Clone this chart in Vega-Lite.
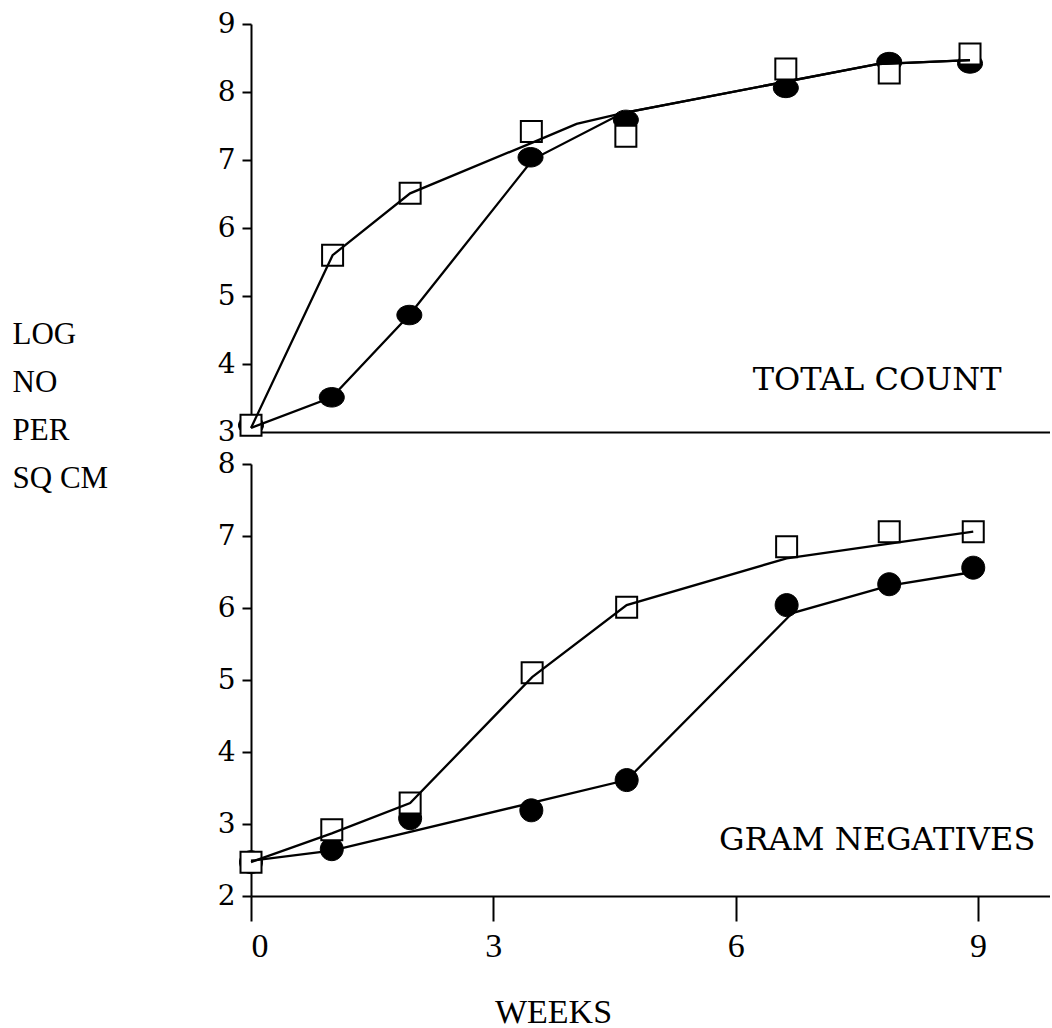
{
  "$schema": "https://vega.github.io/schema/vega-lite/v6.json",
  "background": "white",
  "padding": {"left": 12, "top": 10, "right": 0, "bottom": 0},
  "spacing": 32,
  "bounds": "flush",
  "config": {
    "view": {"stroke": null},
    "axis": {
      "grid": false,
      "domainColor": "black",
      "domainWidth": 2,
      "tickColor": "black",
      "tickWidth": 2,
      "labelColor": "black",
      "titleColor": "black"
    }
  },
  "datasets": {
    "points": [
      {"panel": "total", "series": "square", "week": 0, "logn": 3.1},
      {"panel": "total", "series": "square", "week": 1.01, "logn": 5.6},
      {"panel": "total", "series": "square", "week": 1.97, "logn": 6.51},
      {"panel": "total", "series": "square", "week": 3.47, "logn": 7.42},
      {"panel": "total", "series": "square", "week": 4.64, "logn": 7.35},
      {"panel": "total", "series": "square", "week": 6.62, "logn": 8.34},
      {"panel": "total", "series": "square", "week": 7.9, "logn": 8.28},
      {"panel": "total", "series": "square", "week": 8.9, "logn": 8.56},
      {"panel": "total", "series": "circle", "week": 0, "logn": 3.1},
      {"panel": "total", "series": "circle", "week": 1.0, "logn": 3.51},
      {"panel": "total", "series": "circle", "week": 1.96, "logn": 4.72},
      {"panel": "total", "series": "circle", "week": 3.46, "logn": 7.04},
      {"panel": "total", "series": "circle", "week": 4.64, "logn": 7.59},
      {"panel": "total", "series": "circle", "week": 6.62, "logn": 8.06},
      {"panel": "total", "series": "circle", "week": 7.9, "logn": 8.44},
      {"panel": "total", "series": "circle", "week": 8.9, "logn": 8.42},
      {"panel": "gram", "series": "square", "week": 0, "logn": 2.47},
      {"panel": "gram", "series": "square", "week": 1.0, "logn": 2.92},
      {"panel": "gram", "series": "square", "week": 1.97, "logn": 3.29},
      {"panel": "gram", "series": "square", "week": 3.48, "logn": 5.1},
      {"panel": "gram", "series": "square", "week": 4.65, "logn": 6.01},
      {"panel": "gram", "series": "square", "week": 6.63, "logn": 6.85},
      {"panel": "gram", "series": "square", "week": 7.9, "logn": 7.06},
      {"panel": "gram", "series": "square", "week": 8.94, "logn": 7.06},
      {"panel": "gram", "series": "circle", "week": 0, "logn": 2.47},
      {"panel": "gram", "series": "circle", "week": 1.0, "logn": 2.65},
      {"panel": "gram", "series": "circle", "week": 1.97, "logn": 3.08},
      {"panel": "gram", "series": "circle", "week": 3.47, "logn": 3.19},
      {"panel": "gram", "series": "circle", "week": 4.65, "logn": 3.61},
      {"panel": "gram", "series": "circle", "week": 6.63, "logn": 6.04},
      {"panel": "gram", "series": "circle", "week": 7.9, "logn": 6.33},
      {"panel": "gram", "series": "circle", "week": 8.94, "logn": 6.56}
    ],
    "fits": [
      {"panel": "total", "series": "square", "week": 0, "logn": 3.06},
      {"panel": "total", "series": "square", "week": 1.01, "logn": 5.6},
      {"panel": "total", "series": "square", "week": 1.97, "logn": 6.51},
      {"panel": "total", "series": "square", "week": 3.49, "logn": 7.26},
      {"panel": "total", "series": "square", "week": 4.03, "logn": 7.53},
      {"panel": "total", "series": "square", "week": 4.6, "logn": 7.69},
      {"panel": "total", "series": "square", "week": 7.75, "logn": 8.41},
      {"panel": "total", "series": "square", "week": 8.9, "logn": 8.47},
      {"panel": "total", "series": "circle", "week": 0, "logn": 3.06},
      {"panel": "total", "series": "circle", "week": 1.0, "logn": 3.51},
      {"panel": "total", "series": "circle", "week": 1.96, "logn": 4.72},
      {"panel": "total", "series": "circle", "week": 3.49, "logn": 7.01},
      {"panel": "total", "series": "circle", "week": 4.6, "logn": 7.69},
      {"panel": "total", "series": "circle", "week": 7.75, "logn": 8.41},
      {"panel": "total", "series": "circle", "week": 8.9, "logn": 8.47},
      {"panel": "gram", "series": "square", "week": 0, "logn": 2.47},
      {"panel": "gram", "series": "square", "week": 1.0, "logn": 2.87},
      {"panel": "gram", "series": "square", "week": 1.97, "logn": 3.29},
      {"panel": "gram", "series": "square", "week": 3.48, "logn": 5.04},
      {"panel": "gram", "series": "square", "week": 4.65, "logn": 6.04},
      {"panel": "gram", "series": "square", "week": 6.63, "logn": 6.69},
      {"panel": "gram", "series": "square", "week": 8.94, "logn": 7.06},
      {"panel": "gram", "series": "circle", "week": 0, "logn": 2.49},
      {"panel": "gram", "series": "circle", "week": 1.0, "logn": 2.63},
      {"panel": "gram", "series": "circle", "week": 4.65, "logn": 3.61},
      {"panel": "gram", "series": "circle", "week": 6.7, "logn": 5.93},
      {"panel": "gram", "series": "circle", "week": 7.9, "logn": 6.31},
      {"panel": "gram", "series": "circle", "week": 8.94, "logn": 6.5}
    ],
    "labels": [
      {"panel": "total", "week": 7.75, "logn": 3.62, "label": "TOTAL COUNT"},
      {"panel": "gram", "week": 7.75, "logn": 2.64, "label": "GRAM NEGATIVES"}
    ]
  },
  "vconcat": [
    {
      "width": 799,
      "height": 408,
      "encoding": {
        "x": {"field": "week", "type": "quantitative",
          "scale": {"domain": [0, 9.89], "nice": false, "zero": false},
          "axis": {"labels": false, "ticks": false, "title": null}},
        "y": {"field": "logn", "type": "quantitative",
          "scale": {"domain": [3, 9], "nice": false, "zero": false},
          "axis": {"values": [3, 4, 5, 6, 7, 8, 9], "tickSize": 9, "labelPadding": 7,
            "labelFont": "DejaVu Serif", "labelFontSize": 28,
            "title": ["LOG", "NO", "PER", "SQ CM"], "titleAngle": 0, "titleAlign": "left",
            "titleBaseline": "alphabetic", "titleX": -239, "titleY": 319,
            "titleFont": "Liberation Serif", "titleFontSize": 31, "titleFontWeight": "normal",
            "titleLineHeight": 48}}
      },
      "layer": [
        {"data": {"name": "points"},
         "transform": [{"filter": "datum.panel === 'total' && datum.series === 'circle'"}],
         "mark": {"type": "point", "shape": "M-1,0A1,0.78,0,1,1,1,0A1,0.78,0,1,1,-1,0Z", "filled": true, "fill": "black", "stroke": "black", "strokeWidth": 1, "opacity": 1, "size": 625}},
        {"data": {"name": "points"},
         "transform": [{"filter": "datum.panel === 'total' && datum.series === 'square'"}],
         "mark": {"type": "point", "shape": "square", "filled": true, "fill": "white", "stroke": "black", "strokeWidth": 2, "opacity": 1, "size": 441}},
        {"data": {"name": "fits"},
         "transform": [{"filter": "datum.panel === 'total'"}],
         "mark": {"type": "line", "color": "black", "strokeWidth": 2.3},
         "encoding": {"detail": {"field": "series"}}},
        {"data": {"name": "labels"},
         "transform": [{"filter": "datum.panel === 'total'"}],
         "mark": {"type": "text", "font": "DejaVu Serif", "fontSize": 32, "align": "center", "baseline": "alphabetic", "fill": "black"},
         "encoding": {"text": {"field": "label"}}}
      ]
    },
    {
      "width": 799,
      "height": 432,
      "encoding": {
        "x": {"field": "week", "type": "quantitative",
          "scale": {"domain": [0, 9.89], "nice": false, "zero": false},
          "axis": {"values": [0, 3, 6, 9], "tickSize": 25, "labelPadding": 8,
            "labelFont": "Liberation Serif", "labelFontSize": 34,
            "title": "WEEKS", "titleFont": "Liberation Serif", "titleFontSize": 34, "titleFontWeight": "normal",
            "titleX": 302, "titleY": 126, "titleAlign": "center", "titleBaseline": "alphabetic"}},
        "y": {"field": "logn", "type": "quantitative",
          "scale": {"domain": [2, 8], "nice": false, "zero": false},
          "axis": {"values": [2, 3, 4, 5, 6, 7, 8], "tickSize": 9, "labelPadding": 7,
            "labelFont": "DejaVu Serif", "labelFontSize": 28, "title": null}}
      },
      "layer": [
        {"data": {"name": "points"},
         "transform": [{"filter": "datum.panel === 'gram' && datum.series === 'circle'"}],
         "mark": {"type": "point", "shape": "M-1,0A1,1,0,1,1,1,0A1,1,0,1,1,-1,0Z", "filled": true, "fill": "black", "stroke": "black", "strokeWidth": 1, "opacity": 1, "size": 529}},
        {"data": {"name": "points"},
         "transform": [{"filter": "datum.panel === 'gram' && datum.series === 'square'"}],
         "mark": {"type": "point", "shape": "square", "filled": true, "fill": "white", "stroke": "black", "strokeWidth": 2, "opacity": 1, "size": 441}},
        {"data": {"name": "fits"},
         "transform": [{"filter": "datum.panel === 'gram'"}],
         "mark": {"type": "line", "color": "black", "strokeWidth": 2.3},
         "encoding": {"detail": {"field": "series"}}},
        {"data": {"name": "labels"},
         "transform": [{"filter": "datum.panel === 'gram'"}],
         "mark": {"type": "text", "font": "DejaVu Serif", "fontSize": 32, "align": "center", "baseline": "alphabetic", "fill": "black"},
         "encoding": {"text": {"field": "label"}}}
      ]
    }
  ]
}
